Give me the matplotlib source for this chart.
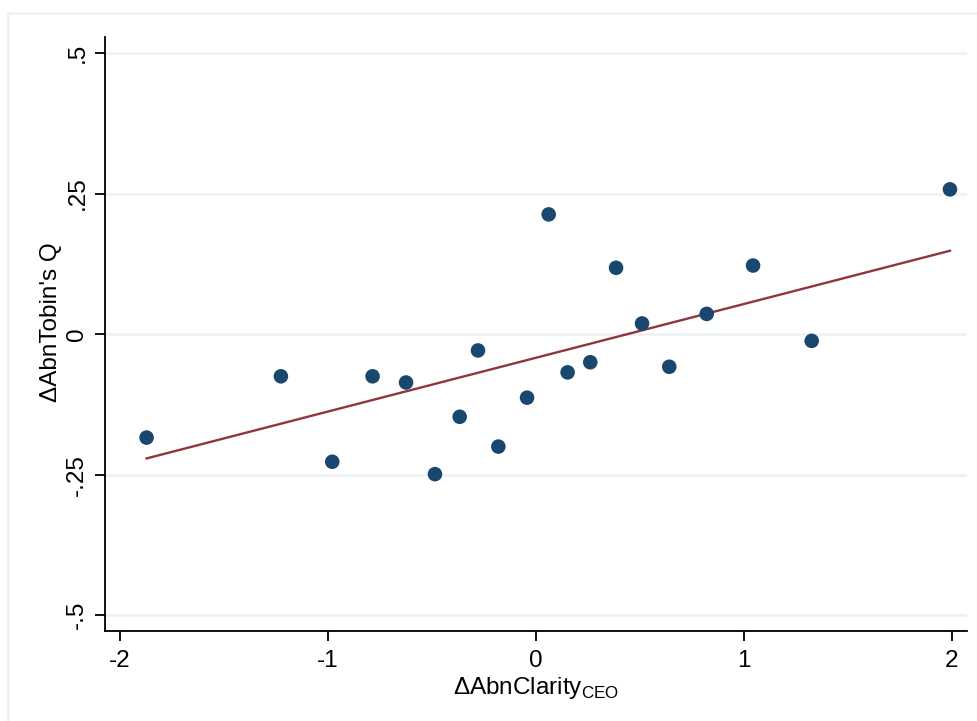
import numpy as np
import matplotlib
matplotlib.use("Agg")
import matplotlib.pyplot as plt
from matplotlib.patches import Rectangle

plt.rcParams['font.family'] = ['Liberation Sans', 'DejaVu Sans']
plt.rcParams['mathtext.fontset'] = 'custom'
plt.rcParams['mathtext.rm'] = 'Liberation Sans'

# Data (binned scatter)
x_vals = [-1.872, -1.226, -0.979, -0.785, -0.624, -0.485, -0.366, -0.278, -0.180,
          -0.042, 0.062, 0.153, 0.262, 0.386, 0.511, 0.642, 0.822, 1.045, 1.327, 1.992]
y_vals = [-0.184, -0.075, -0.227, -0.075, -0.086, -0.249, -0.147, -0.029, -0.200,
          -0.113, 0.213, -0.068, -0.050, 0.118, 0.019, -0.058, 0.036, 0.122, -0.012, 0.2575]

# Linear fit (estimated from underlying data)
fit_intercept = -0.0421
fit_slope = 0.0956

x_ticks = [-2, -1, 0, 1, 2]
x_ticklabels = ["-2", "-1", "0", "1", "2"]
y_ticks = [-0.5, -0.25, 0, 0.25, 0.5]
y_ticklabels = ["-.5", "-.25", "0", ".25", ".5"]

x_label = r"ΔAbnClarity$_{\mathregular{CEO}}$"
y_label = "ΔAbnTobin's Q"

marker_color = "#1a476f"
line_color = "#90353b"
grid_color = "#eaf2f3"

fig = plt.figure(figsize=(9.77, 7.21), dpi=100)
fig.patch.set_facecolor("white")

# outer graph region border
fig.patches.append(Rectangle((8/977, -0.2), 2.0, 1.2 - 13/721, transform=fig.transFigure,
                             fill=False, edgecolor=grid_color, lw=1.8, zorder=0))

ax = fig.add_axes([105/977, 1 - 631/721, (967 - 105)/977, (631 - 37)/721])
ax.set_xlim(-2.072, 2.074)
ax.set_ylim(-0.528, 0.5285)

for yt in y_ticks:
    ax.axhline(yt, color=grid_color, lw=1.8, zorder=1)

xa = np.array(x_vals)
ya = np.array(y_vals)
xl = np.array([xa.min(), xa.max()])
ax.plot(xl, fit_intercept + fit_slope * xl, color=line_color, lw=1.7, zorder=2)

ax.scatter(xa, ya, s=110, color=marker_color, edgecolors="none", zorder=3)

ax.set_xticks(x_ticks)
ax.set_xticklabels(x_ticklabels, fontsize=17.5)
ax.set_yticks(y_ticks)
ax.set_yticklabels(y_ticklabels, fontsize=17.5, rotation=90, va="center")
ax.tick_params(axis="both", length=7, width=1.3, color="black", direction="out")
ax.tick_params(axis="x", pad=7)
ax.tick_params(axis="y", pad=5)

for s in ["top", "right"]:
    ax.spines[s].set_visible(False)
for s in ["left", "bottom"]:
    ax.spines[s].set_linewidth(1.3)
    ax.spines[s].set_color("black")

ax.set_xlabel(x_label, fontsize=17.5, labelpad=2)
ax.set_ylabel(y_label, fontsize=17.5)
ax.yaxis.set_label_coords(-0.05, 0.52)

fig.savefig("out.png", dpi=100, facecolor="white")
